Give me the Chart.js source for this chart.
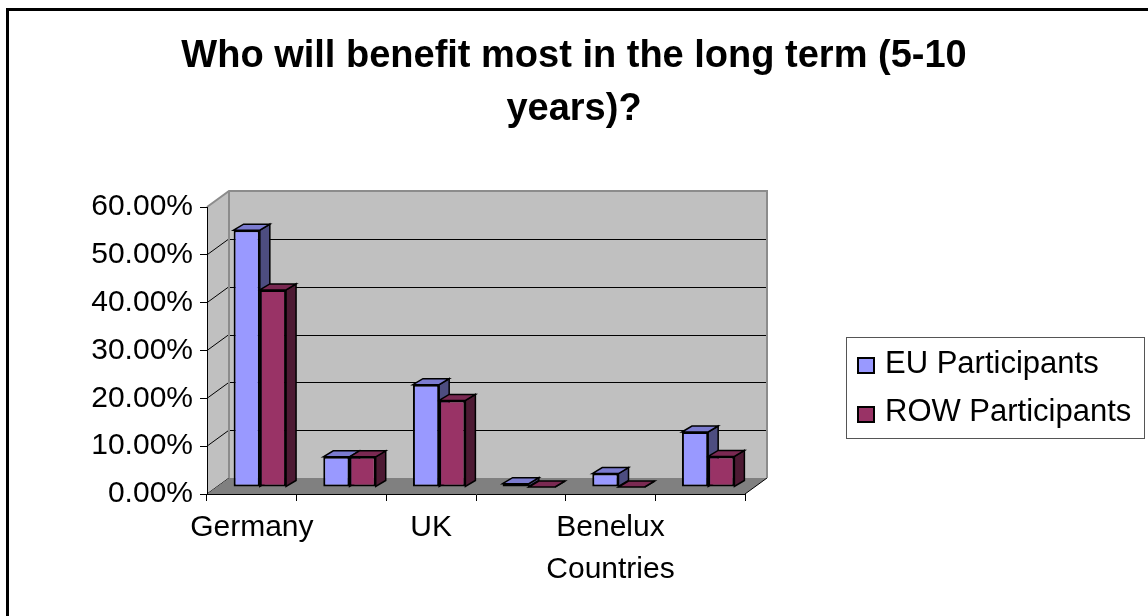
<!DOCTYPE html>
<html>
<head>
<meta charset="utf-8">
<script src="https://cdn.jsdelivr.net/npm/chart.js@4"></script>
<style>
  html, body { margin: 0; padding: 0; background: #fff; }
  #wrap { position: relative; width: 1148px; height: 616px; }
</style>
</head>
<body>
<div id="wrap"><canvas id="chart-benefit" width="1148" height="616"></canvas></div>
<script>
// data (percent)
var categories = ['Germany', '', 'UK', '', ['Benelux', 'Countries'], ''];
var seriesNames = ['EU Participants', 'ROW Participants'];
var euValues = [53.7, 6.3, 21.4, 0.7, 2.8, 11.5];
var rowValues = [41.2, 6.3, 18.1, 0, 0, 6.4];
var yTicks = [0, 10, 20, 30, 40, 50, 60];

var frontColors = ['#9999FF', '#993366'];
var topColors = ['#7B7BCF', '#7A2952'];
var sideColors = ['#4D4D80', '#4D1A33'];

// fake 3d offsets, excel style
var WALL = { dx: 22, dy: -16 };
var SHIFT = { dx: 8, dy: -7 };
var DEPTH = { dx: 10, dy: -6 };

Chart.defaults.font.family = "'Liberation Sans', Arial, sans-serif";
Chart.defaults.color = '#000';

function poly(ctx, pts, fill, stroke, lw) {
    ctx.beginPath();
    ctx.moveTo(pts[0][0], pts[0][1]);
    for (var i = 1; i < pts.length; i++) ctx.lineTo(pts[i][0], pts[i][1]);
    ctx.closePath();
    if (fill) { ctx.fillStyle = fill; ctx.fill(); }
    if (stroke) { ctx.strokeStyle = stroke; ctx.lineWidth = lw || 1; ctx.stroke(); }
}

var walls3d = {
    id: 'walls3d',
    beforeDraw: function(chart) {
        var ctx = chart.ctx, xs = chart.scales.x, ys = chart.scales.y;
        var L = xs.left, R = xs.right, T = ys.top, B = ys.bottom;
        var dx = WALL.dx, dy = WALL.dy;
        ctx.save();
        // back wall
        poly(ctx, [[L + dx, T + dy], [R + dx, T + dy], [R + dx, B + dy], [L + dx, B + dy]], '#C0C0C0');
        ctx.strokeStyle = '#000';
        ctx.lineWidth = 1;
        yTicks.forEach(function(v) {
            if (v === yTicks[0] || v === yTicks[yTicks.length - 1]) return;
            var y = Math.round(ys.getPixelForValue(v) + dy) + 0.5;
            ctx.beginPath(); ctx.moveTo(L + dx, y); ctx.lineTo(R + dx, y); ctx.stroke();
        });
        // side wall
        poly(ctx, [[L, T], [L + dx, T + dy], [L + dx, B + dy], [L, B]], '#C0C0C0');
        ctx.strokeStyle = '#000';
        yTicks.forEach(function(v) {
            if (v === yTicks[yTicks.length - 1]) return;
            var y = ys.getPixelForValue(v);
            ctx.beginPath(); ctx.moveTo(L, y); ctx.lineTo(L + dx, y + dy); ctx.stroke();
        });
        // floor
        poly(ctx, [[L, B], [L + dx, B + dy], [R + dx, B + dy], [R, B]], '#808080');
        ctx.strokeStyle = '#000';
        ctx.beginPath(); ctx.moveTo(R, B); ctx.lineTo(R + dx, B + dy); ctx.stroke();
        // wall edges
        ctx.strokeStyle = '#8C8C8C';
        ctx.lineWidth = 2;
        ctx.beginPath();
        ctx.moveTo(L, T); ctx.lineTo(L + dx, T + dy); ctx.lineTo(R + dx, T + dy); ctx.lineTo(R + dx, B + dy);
        ctx.moveTo(L + dx, T + dy); ctx.lineTo(L + dx, B + dy);
        ctx.stroke();
        ctx.restore();
    },
    beforeDatasetsDraw: function(chart) {
        var ctx = chart.ctx;
        ctx.save();
        ctx.translate(SHIFT.dx, SHIFT.dy);
        ctx.lineJoin = 'miter';
        var faces = [];
        chart.data.datasets.forEach(function(ds, i) {
            chart.getDatasetMeta(i).data.forEach(function(el) {
                var p = el.getProps(['x', 'y', 'base', 'width'], true);
                faces.push({ i: i, l: p.x - p.width / 2, r: p.x + p.width / 2, t: p.y, b: p.base });
            });
        });
        // sides first, then tops, the library draws the fronts over them
        faces.forEach(function(f) {
            poly(ctx, [[f.r, f.t], [f.r + DEPTH.dx, f.t + DEPTH.dy], [f.r + DEPTH.dx, f.b + DEPTH.dy], [f.r, f.b]], sideColors[f.i], '#000', 1.5);
        });
        faces.forEach(function(f) {
            poly(ctx, [[f.l, f.t], [f.l + DEPTH.dx, f.t + DEPTH.dy], [f.r + DEPTH.dx, f.t + DEPTH.dy], [f.r, f.t]], topColors[f.i], '#000', 1.5);
        });
    },
    afterDatasetsDraw: function(chart) {
        chart.ctx.restore();
    },
    afterDraw: function(chart) {
        var ctx = chart.ctx;
        ctx.save();
        // outer frame (only top/left visible in the original)
        ctx.strokeStyle = '#000';
        ctx.lineWidth = 3;
        ctx.beginPath();
        ctx.moveTo(7.5, chart.height); ctx.lineTo(7.5, 9.5); ctx.lineTo(chart.width, 9.5);
        ctx.stroke();
        // legend box
        var lx = 846, ly = 337, lw = 298, lh = 101;
        ctx.fillStyle = '#fff';
        ctx.fillRect(lx, ly, lw, lh);
        ctx.strokeStyle = '#555';
        ctx.lineWidth = 1;
        ctx.strokeRect(lx + 0.5, ly + 0.5, lw, lh);
        ctx.font = "31px 'Liberation Sans', Arial, sans-serif";
        ctx.textBaseline = 'alphabetic';
        ctx.textAlign = 'left';
        chart.data.datasets.forEach(function(ds, i) {
            var sy = 358 + i * 49;
            ctx.fillStyle = ds.backgroundColor;
            ctx.fillRect(858, sy, 16, 15);
            ctx.strokeStyle = '#000';
            ctx.lineWidth = 2;
            ctx.strokeRect(858, sy, 16, 15);
            ctx.fillStyle = '#000';
            ctx.fillText(ds.label, 885, 373 + i * 48);
        });
        ctx.restore();
    }
};

var config = {
    type: 'bar',
    data: {
        labels: categories,
        datasets: [{
            label: seriesNames[0],
            data: euValues,
            backgroundColor: frontColors[0],
            borderColor: '#000',
            borderWidth: 2,
            borderSkipped: false
        }, {
            label: seriesNames[1],
            data: rowValues,
            backgroundColor: frontColors[1],
            borderColor: '#000',
            borderWidth: 2,
            borderSkipped: false
        }]
    },
    options: {
        responsive: false,
        animation: false,
        datasets: { bar: { barPercentage: 1, categoryPercentage: 0.585 } },
        layout: { padding: 0 },
        plugins: {
            legend: { display: false },
            tooltip: { enabled: false },
            title: {
                display: true,
                text: ['Who will benefit most in the long term (5-10', 'years)?'],
                font: { size: 38, weight: 'bold', lineHeight: '53px' },
                color: '#000',
                padding: { top: 30, bottom: 71 }
            }
        },
        scales: {
            x: {
                offset: true,
                grid: { display: true, offset: true, drawOnChartArea: false, drawTicks: true, tickLength: 7, color: '#000' },
                border: { display: true, color: '#000', width: 1 },
                ticks: { autoSkip: false, maxRotation: 0, padding: 6, color: '#000', font: { size: 30, lineHeight: 1.4 } },
                afterFit: function(s) { s.height = 122; }
            },
            y: {
                min: 0,
                max: 60,
                afterBuildTicks: function(s) { s.ticks = yTicks.map(function(v) { return { value: v }; }); },
                ticks: {
                    padding: 7,
                    color: '#000',
                    font: { size: 30 },
                    callback: function(v) { return v.toFixed(2) + '%'; }
                },
                grid: { display: true, drawOnChartArea: false, drawTicks: true, tickLength: 7, color: '#000' },
                border: { display: true, color: '#000', width: 1 },
                afterFit: function(s) { s.width = 207; }
            },
            pad: {
                type: 'linear',
                position: 'right',
                display: true,
                ticks: { display: false },
                grid: { display: false },
                border: { display: false },
                afterFit: function(s) { s.width = 403; }
            }
        }
    },
    plugins: [walls3d]
};

var ctx = document.getElementById('chart-benefit').getContext('2d');
new Chart(ctx, config);
</script>
</body>
</html>
